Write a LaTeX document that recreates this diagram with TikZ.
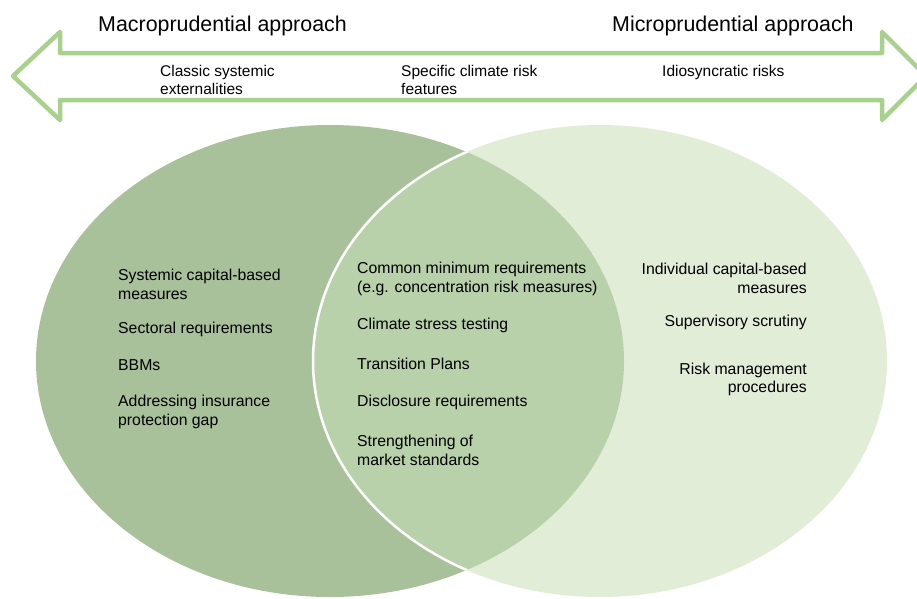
\documentclass[tikz,border=0pt]{standalone}
\usepackage{fontspec}
\setmainfont{Liberation Sans}
\definecolor{macrogreen}{HTML}{A9C19B}
\definecolor{microgreen}{HTML}{E2EDD8}
\definecolor{overlapgreen}{HTML}{B8D1AA}
\definecolor{arrowgreen}{HTML}{A9D18E}
\tikzset{
  heading/.style={inner sep=0pt, anchor=west, font=\fontsize{21.4}{25}\selectfont},
  toplabel/.style={inner sep=0pt, anchor=west, align=left, font=\fontsize{15.5}{18}\selectfont},
  item/.style={inner sep=0pt, anchor=west, align=left, font=\fontsize{15.8}{19}\selectfont},
  itemright/.style={inner sep=0pt, anchor=east, align=right, font=\fontsize{15.8}{18.5}\selectfont}
}
\begin{document}
\begin{tikzpicture}[x=1pt, y=-1pt]
		\useasboundingbox (0,0) rectangle (917,598);

		% the two approaches
		\fill [macrogreen] (330,361) ellipse [x radius=294, y radius=236];
		\fill [microgreen] (600,361) ellipse [x radius=287, y radius=236];
		\begin{scope}
			\clip (330,361) ellipse [x radius=294, y radius=236];
			\fill [overlapgreen] (600,361) ellipse [x radius=287, y radius=236];
			\draw [white, line width=2.5] (600,361) ellipse [x radius=287, y radius=236];
		\end{scope}

		% double arrow on top
		\draw [arrowgreen, line width=4.5, line join=round]
			(13,76) -- (60,32) -- (60,53) -- (882,53) -- (882,32) -- (926,76)
			-- (882,120) -- (882,100) -- (60,100) -- (60,120) -- cycle;

		\node [heading] (macro) at (98,25.5) {Macroprudential approach};
		\node [heading] (micro) at (612,25.5) {Microprudential approach};

		\node [toplabel] (classic) at (160,79.5) {Classic systemic\\externalities};
		\node [toplabel] (specific) at (401,79.5) {Specific climate risk\\features};
		\node [toplabel] (idio) at (662,72.5) {Idiosyncratic risks};

		% macroprudential tools
		\node [item] (syscap) at (118,284) {Systemic capital-based\\measures};
		\node [item] (sector) at (118,329.5) {Sectoral requirements};
		\node [item] (bbm) at (118,365.5) {BBMs};
		\node [item] (gap) at (118,412) {Addressing insurance\\protection gap};

		% common tools
		\node [item] (common) at (357,278.5) {Common minimum requirements\\(e.g. concentration risk measures)};
		\node [item] (stress) at (357,325.5) {Climate stress testing};
		\node [item] (plans) at (357,363.5) {Transition Plans};
		\node [item] (disclose) at (357,402.5) {Disclosure requirements};
		\node [item] (market) at (357,450) {Strengthening of\\market standards};

		% microprudential tools
		\node [itemright] (indcap) at (807,278.5) {Individual capital-based\\measures};
		\node [itemright] (scrutiny) at (807,322.5) {Supervisory scrutiny};
		\node [itemright] (riskman) at (807,379.5) {Risk management\\procedures};

		\end{tikzpicture}
\end{document}
